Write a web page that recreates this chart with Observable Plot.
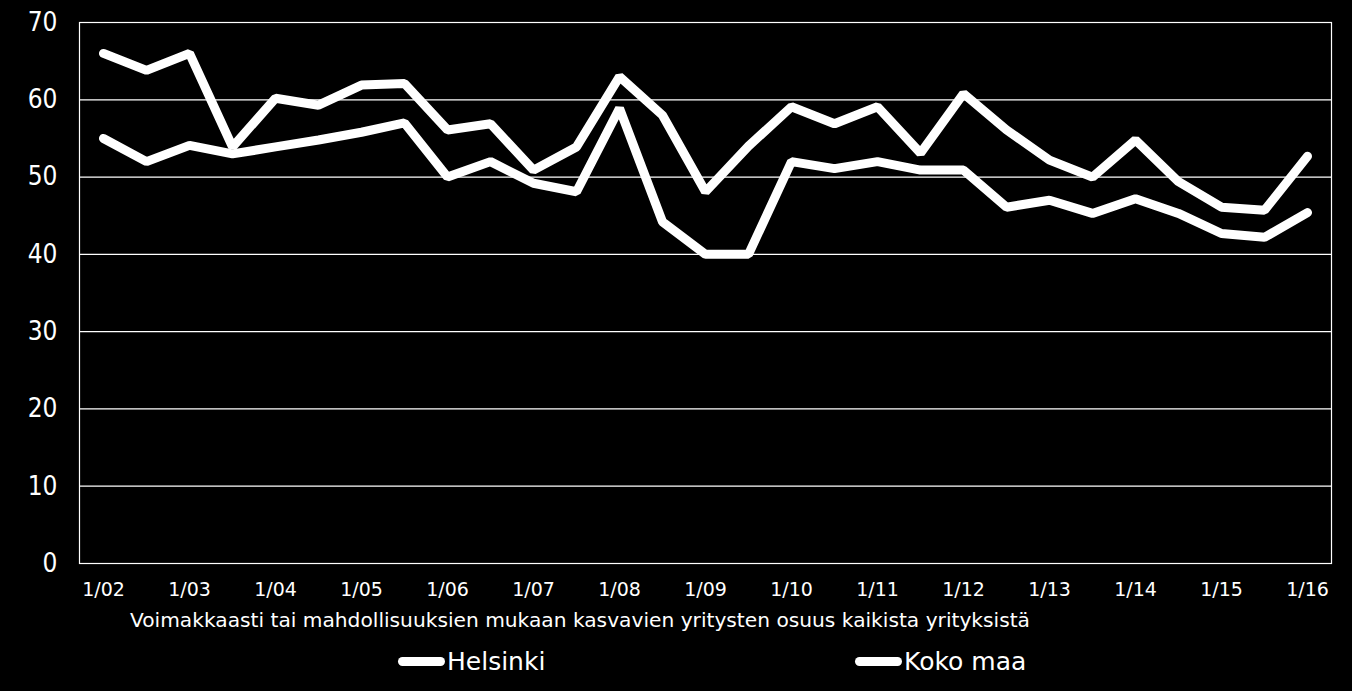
<!DOCTYPE html>
<html><head><meta charset="utf-8">
<script src="https://cdn.jsdelivr.net/npm/d3@7"></script>
<script src="https://cdn.jsdelivr.net/npm/@observablehq/plot@0.6"></script>
<style>
html,body{margin:0;padding:0;background:#000;}
body{width:1352px;height:691px;overflow:hidden;position:relative;font-family:"DejaVu Sans",sans-serif;color:#fff;}
#chart{position:absolute;left:0;top:0;}
#caption{position:absolute;left:130px;top:608px;font-size:20.2px;white-space:nowrap;}
.leg{position:absolute;top:647px;font-size:25px;display:flex;align-items:center;white-space:nowrap;}
.sw{display:inline-block;width:47px;height:9px;background:#fff;border-radius:5px;margin-right:2px;}
</style></head>
<body>
<div id="chart"></div>
<div id="caption"></div>
<div class="leg" style="left:398px"><span class="sw"></span><span id="l0"></span></div>
<div class="leg" style="left:855px"><span class="sw"></span><span id="l1"></span></div>
<script>
const periods = ["1/02","7/02","1/03","7/03","1/04","7/04","1/05","7/05","1/06","7/06","1/07","7/07","1/08","7/08","1/09","7/09","1/10","7/10","1/11","7/11","1/12","7/12","1/13","7/13","1/14","7/14","1/15","7/15","1/16"];
const helsinki = [66,63.8,66,53.9,60.2,59.3,61.9,62.1,56.1,56.9,50.9,53.9,63,58,48.1,54,59.1,56.9,59.1,53.1,60.8,56.1,52.2,50,54.8,49.4,46.1,45.7,52.7];
const kokoMaa = [55,52,54.1,53,53.9,54.8,55.8,57,50,52,49.2,48.1,58.9,44.2,40,40,52,51.1,52,50.9,50.9,46.1,47,45.3,47.2,45.3,42.7,42.2,45.4];
const yTicks = [0,10,20,30,40,50,60,70];
const seriesNames = ["Helsinki","Koko maa"];
const caption = "Voimakkaasti tai mahdollisuuksien mukaan kasvavien yritysten osuus kaikista yrityksistä";

const data = [];
periods.forEach((p,i)=>{
  data.push({period:p, value:helsinki[i], series:seriesNames[0]});
  data.push({period:p, value:kokoMaa[i], series:seriesNames[1]});
});
const xTicks = periods.filter(p=>p.startsWith("1/"));

const plot = Plot.plot({
  width:1352, height:605,
  marginLeft:79, marginRight:21, marginTop:22, marginBottom:42,
  style:{background:"#000", color:"#fff", fontFamily:'"DejaVu Sans",sans-serif'},
  x:{type:"point", domain:periods, padding:0.52},
  y:{domain:[0,70]},
  marks:[
    Plot.ruleY(yTicks, {stroke:"#fff", strokeWidth:1.2}),
    Plot.frame({stroke:"#fff", strokeWidth:1.2}),
    Plot.axisY({ticks:yTicks, tickSize:0, tickPadding:22, fontSize:26, fontFamily:'"DejaVu Sans Condensed","DejaVu Sans",sans-serif', label:null}),
    Plot.axisX({ticks:xTicks, tickSize:0, tickPadding:19, fontSize:19, label:null}),
    Plot.line(data, {x:"period", y:"value", z:"series", stroke:"#fff", strokeWidth:9, strokeLinecap:"round", strokeLinejoin:"miter"})
  ]
});
document.getElementById("chart").appendChild(plot);
document.getElementById("caption").textContent = caption;
document.getElementById("l0").textContent = seriesNames[0];
document.getElementById("l1").textContent = seriesNames[1];
</script>
</body></html>
